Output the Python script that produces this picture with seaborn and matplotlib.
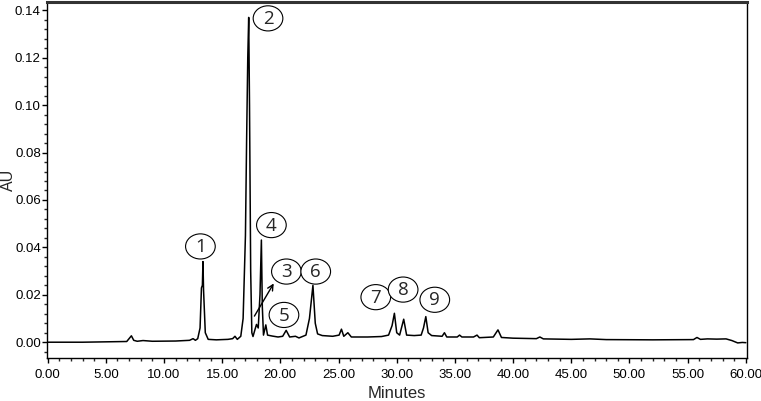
import matplotlib
matplotlib.use("Agg")
import matplotlib.pyplot as plt
from matplotlib.patches import Ellipse
from matplotlib.ticker import MultipleLocator, FormatStrFormatter
import pandas as pd
import seaborn as sns

# chromatogram trace (minutes, AU)
minutes = [0.0, 3.0, 6.8, 7.0, 7.2, 7.4, 7.7, 8.2, 9.0, 11.0, 12.2, 12.5, 12.7, 12.9,
           13.1, 13.22, 13.3, 13.35, 13.4, 13.55, 13.8, 14.5, 15.5, 15.9, 16.1, 16.3,
           16.6, 16.8, 17.0, 17.1, 17.2, 17.28, 17.35, 17.45, 17.55, 17.65, 17.8, 17.95,
           18.1, 18.25, 18.37, 18.45, 18.55, 18.75, 18.9, 19.3, 19.8, 20.2, 20.5, 20.8,
           21.3, 21.6, 22.2, 22.5, 22.8, 23.0, 23.2, 23.6, 24.5, 25.05, 25.25, 25.45,
           25.8, 26.1, 27.5, 28.7, 29.3, 29.6, 29.8, 30.0, 30.25, 30.6, 30.85, 31.5,
           32.1, 32.3, 32.5, 32.7, 33.0, 33.9, 34.1, 34.3, 35.2, 35.4, 35.6, 36.6,
           36.9, 37.1, 38.3, 38.7, 39.0, 40.0, 42.0, 42.3, 42.6, 45.0, 46.6, 48.0,
           52.0, 55.5, 55.8, 56.1, 56.7, 57.5, 58.3, 58.8, 59.3, 59.7, 60.0]
au = [0.0, 0.0, 0.0003, 0.0015, 0.0027, 0.0008, 0.0004, 0.0007, 0.0004, 0.0005, 0.0008,
      0.0015, 0.0008, 0.0015, 0.006, 0.0229, 0.024, 0.034, 0.022, 0.004, 0.0012, 0.0010,
      0.0012, 0.0015, 0.0025, 0.0012, 0.0025, 0.010, 0.045, 0.085, 0.12, 0.137, 0.10,
      0.03, 0.004, 0.0024, 0.005, 0.0075, 0.006, 0.02, 0.0431, 0.015, 0.003, 0.0073,
      0.003, 0.0026, 0.0022, 0.0025, 0.005, 0.0022, 0.0025, 0.0018, 0.003, 0.01, 0.024,
      0.008, 0.0035, 0.0028, 0.0025, 0.003, 0.0055, 0.0025, 0.004, 0.0022, 0.0022,
      0.0024, 0.003, 0.007, 0.0122, 0.004, 0.003, 0.0097, 0.003, 0.0028, 0.003, 0.006,
      0.0108, 0.004, 0.0028, 0.0025, 0.004, 0.0022, 0.0022, 0.003, 0.0022, 0.0022,
      0.003, 0.0019, 0.0022, 0.0052, 0.002, 0.0017, 0.0015, 0.0022, 0.0014, 0.0012,
      0.0014, 0.0011, 0.001, 0.0011, 0.002, 0.0012, 0.0014, 0.0013, 0.0014, 0.0007,
      -0.0003, -0.0001, -0.0002]

# peak labels and where their ellipses sit
peak_ids = ["1", "2", "3", "4", "5", "6", "7", "8", "9"]
label_x = [13.13, 18.94, 20.52, 19.23, 20.31, 23.04, 28.2, 30.55, 33.27]
label_y = [0.0404, 0.1366, 0.0298, 0.0494, 0.0115, 0.0298, 0.0190, 0.0222, 0.0179]

df = pd.DataFrame({"Minutes": minutes, "AU": au})

sns.set_style("ticks")
plt.rcParams["font.family"] = ["Liberation Sans", "DejaVu Sans"]

fig = plt.figure(figsize=(7.61, 4.01), dpi=100)
ax = fig.add_axes([0.0618, 0.107, 0.9198, 0.888])

sns.lineplot(data=df, x="Minutes", y="AU", estimator=None, sort=False,
             color="black", linewidth=1.1, ax=ax)

for pid, lx, ly in zip(peak_ids, label_x, label_y):
    ax.add_patch(Ellipse((lx, ly), width=2.55, height=0.0106, facecolor="white",
                         edgecolor="black", linewidth=0.8, zorder=3))
    ax.text(lx, ly - 0.0003, pid, ha="center", va="center", fontsize=13.5,
            family=["Open Sans", "DejaVu Sans"], zorder=4)

# arrow pointing peak 3 out of the crowd
ax.annotate("", xy=(19.55, 0.0258), xytext=(17.65, 0.0100),
            arrowprops=dict(arrowstyle="->", color="black", lw=1.0), zorder=4)

ax.set_xlim(-0.05, 60.1)
ax.set_ylim(-0.0067, 0.1435)
ax.xaxis.set_major_locator(MultipleLocator(5))
ax.xaxis.set_minor_locator(MultipleLocator(1))
ax.yaxis.set_major_locator(MultipleLocator(0.02))
ax.yaxis.set_minor_locator(MultipleLocator(0.004))
ax.xaxis.set_major_formatter(FormatStrFormatter("%.2f"))
ax.yaxis.set_major_formatter(FormatStrFormatter("%.2f"))
ax.tick_params(which="major", direction="out", length=3.5, width=1, labelsize=9.5,
               colors="black", pad=1)
ax.tick_params(which="minor", direction="out", length=2.5, width=1)
ax.tick_params(axis="x", which="major", pad=4)

for side in ["left", "right", "bottom"]:
    ax.spines[side].set_visible(True)
    ax.spines[side].set_linewidth(1.0)
    ax.spines[side].set_color("black")
ax.spines["top"].set_visible(True)
ax.spines["top"].set_linewidth(2.2)
ax.spines["top"].set_color("#333333")

ax.set_xlabel("Minutes", fontsize=12, labelpad=4)
ax.set_ylabel("")
fig.text(8.5 / 761, 0.551, "AU", rotation=90, ha="center", va="center", fontsize=11.5)

fig.savefig("out.png", dpi=100)
